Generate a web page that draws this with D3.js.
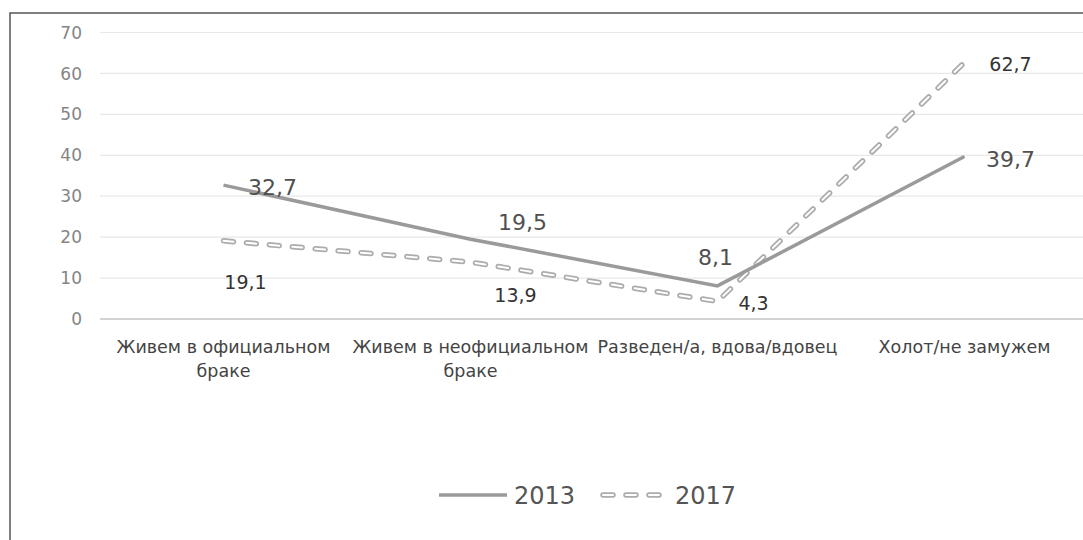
<!DOCTYPE html>
<html>
  <meta charset="utf-8" />
  <style>
    body { margin: 0; background: #fff; }
    text { font-family: "DejaVu Sans", sans-serif; }
  </style>
  <svg width="1083" height="540"></svg>
  <script src="https://d3js.org/d3.v7.min.js"></script>
  <script>
    const categories = [
      ["Живем в официальном", "браке"],
      ["Живем в неофициальном", "браке"],
      ["Разведен/а, вдова/вдовец"],
      ["Холот/не замужем"],
    ];
    const years = ["2013", "2017"];
    const values2013 = [32.7, 19.5, 8.1, 39.7];
    const values2017 = [19.1, 13.9, 4.3, 62.7];
    const yTicks = [0, 10, 20, 30, 40, 50, 60, 70];

    // label offsets from the point (dx to text centre, dy to baseline)
    const offsets2013 = [[49, 10], [52, -9], [-2, -21], [46, 10]];
    const offsets2017 = [[22, 48], [45, 40], [36, 9], [46, 9]];

    var svg = d3.select("svg");
    var width = +svg.attr("width");

    // frame
    svg.append("rect")
      .attr("x", 10).attr("y", 13)
      .attr("width", 1200).attr("height", 700)
      .attr("fill", "none")
      .attr("stroke", "#555")
      .attr("stroke-width", 1.5);

    var keys = categories.map((c) => c.join(" "));
    var x = d3.scaleBand().domain(keys).range([100, 1088]);
    var cx = (i) => x(keys[i]) + x.bandwidth() / 2;
    var y = d3.scaleLinear().domain([0, 70]).range([319, 32.5]);

    // grid
    svg.append("g")
      .selectAll("line")
      .data(yTicks)
      .join("line")
      .attr("x1", 100)
      .attr("x2", width)
      .attr("y1", (d) => y(d))
      .attr("y2", (d) => y(d))
      .attr("stroke", (d) => (d === 0 ? "#c4c4c4" : "#e8e8e8"))
      .attr("stroke-width", (d) => (d === 0 ? 1.5 : 1.2));

    // y tick labels
    svg.append("g")
      .selectAll("text")
      .data(yTicks)
      .join("text")
      .attr("x", 82)
      .attr("y", (d) => y(d))
      .attr("dy", "0.36em")
      .attr("text-anchor", "end")
      .attr("font-size", 17)
      .attr("fill", "#858585")
      .text((d) => d);

    // category labels
    var cat = svg.append("g")
      .selectAll("text")
      .data(categories)
      .join("text")
      .attr("text-anchor", "middle")
      .attr("font-size", 17.5)
      .attr("fill", "#444");
    cat.selectAll("tspan")
      .data((d, i) => d.map((t) => ({ t, i })))
      .join("tspan")
      .attr("x", (d) => cx(d.i))
      .attr("y", (d, j) => 353 + j * 24)
      .text((d) => d.t);

    var line = d3.line().x((d, i) => cx(i)).y((d) => y(d));

    // outlined dashes: grey capsule with a white core
    function dashed(sel) {
      sel.append("path")
        .attr("fill", "none")
        .attr("stroke", "#acacac")
        .attr("stroke-width", 5.5)
        .attr("stroke-linecap", "round")
        .attr("stroke-dasharray", "10,13");
      sel.append("path")
        .attr("fill", "none")
        .attr("stroke", "#fff")
        .attr("stroke-width", 2)
        .attr("stroke-linecap", "round")
        .attr("stroke-dasharray", "10,13");
    }

    // 2017 dashed line
    var g2017 = svg.append("g").datum(values2017);
    dashed(g2017);
    g2017.selectAll("path").attr("d", line);

    // 2013 solid line
    svg.append("path")
      .datum(values2013)
      .attr("d", line)
      .attr("fill", "none")
      .attr("stroke", "#9a9a9a")
      .attr("stroke-width", 3.5);

    // data labels
    svg.append("g")
      .selectAll("text")
      .data(values2013)
      .join("text")
      .attr("x", (d, i) => cx(i) + offsets2013[i][0])
      .attr("y", (d, i) => y(d) + offsets2013[i][1])
      .attr("text-anchor", "middle")
      .attr("font-size", 22)
      .attr("fill", "#505050")
      .text((d) => String(d).replace(".", ","));

    svg.append("g")
      .selectAll("text")
      .data(values2017)
      .join("text")
      .attr("x", (d, i) => cx(i) + offsets2017[i][0])
      .attr("y", (d, i) => y(d) + offsets2017[i][1])
      .attr("text-anchor", "middle")
      .attr("font-size", 19)
      .attr("fill", "#333")
      .text((d) => String(d).replace(".", ","));

    // legend
    var legend = svg.append("g").attr("transform", "translate(439,495)");
    legend.append("line")
      .attr("x1", 0).attr("x2", 68)
      .attr("stroke", "#9a9a9a")
      .attr("stroke-width", 3.5);
    legend.append("text")
      .attr("x", 75).attr("y", 9)
      .attr("font-size", 24)
      .attr("fill", "#555")
      .text(years[0]);
    var lg = legend.append("g").datum([[164, 0], [226, 0]]);
    dashed(lg);
    lg.selectAll("path").attr("d", d3.line());
    legend.append("text")
      .attr("x", 236).attr("y", 9)
      .attr("font-size", 24)
      .attr("fill", "#555")
      .text(years[1]);
  </script>
</html>
